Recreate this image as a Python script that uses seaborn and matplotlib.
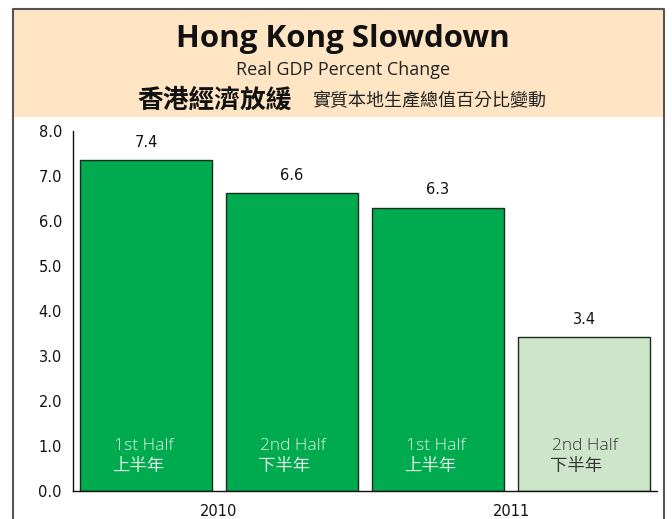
import numpy as np
import pandas as pd
import matplotlib
matplotlib.use("Agg")
import matplotlib.pyplot as plt
import seaborn as sns
from matplotlib.patches import Rectangle
from matplotlib.lines import Line2D

# data
periods = ["2010 H1", "2010 H2", "2011 H1", "2011 H2"]
gdp_change = [7.35, 6.62, 6.29, 3.42]
value_labels = ["7.4", "6.6", "6.3", "3.4"]
half_en = ["1st Half", "2nd Half", "1st Half", "2nd Half"]
half_zh = ["上半年", "下半年", "上半年", "下半年"]
years = ["2010", "2011"]
y_ticks = [0.0, 1.0, 2.0, 3.0, 4.0, 5.0, 6.0, 7.0, 8.0]

bar_colors = ["#00AA4F", "#00AA4F", "#00AA4F", "#CDE6CA"]
text_colors = ["#E0F3E6", "#E0F3E6", "#E0F3E6", "#333333"]

df = pd.DataFrame({"period": periods, "change": gdp_change})

sns.set_style("white")
plt.rcParams["font.family"] = ["DejaVu Sans", "Noto Sans CJK TC"]

fig = plt.figure(figsize=(6.72, 5.19), dpi=100)

# header band and frame
fig.patches.append(Rectangle((13 / 672, 1 - 117 / 519), (664 - 13) / 672, (117 - 9) / 519,
                             transform=fig.transFigure, facecolor="#FFE5C4",
                             edgecolor="none", zorder=0))
fig.lines.append(Line2D([13 / 672, 13 / 672, 664 / 672, 664 / 672],
                        [0, 1 - 9 / 519, 1 - 9 / 519, 0],
                        transform=fig.transFigure, color="#555555", lw=1.5))

fig.text(0.51, 1 - 39 / 519, "Hong Kong Slowdown", ha="center", va="center",
         fontsize=22.5, fontweight="bold", family=["Open Sans", "DejaVu Sans"],
         color="#111111")
fig.text(0.51, 1 - 70 / 519, "Real GDP Percent Change", ha="center", va="center",
         fontsize=13, family=["Open Sans", "DejaVu Sans"], color="#222222")
fig.text(292 / 672, 1 - 100 / 519, "香港經濟放緩", ha="right", va="center",
         fontsize=18.5, fontweight="bold", family=["Noto Sans CJK TC"], color="#111111")
fig.text(312 / 672, 1 - 101 / 519, "實質本地生產總值百分比變動", ha="left", va="center",
         fontsize=13, family=["Noto Sans CJK TC"], color="#222222")

ax = fig.add_axes([73 / 672, 28 / 519, (657 - 73) / 672, 360 / 519])
sns.barplot(data=df, x="period", y="change", hue="period", palette=bar_colors,
            saturation=1, legend=False, width=0.91, edgecolor="#1A2A1A",
            linewidth=1.0, ax=ax)

ax.set_xlim(-0.5, 3.5)
ax.set_ylim(0, 8)
ax.set_yticks(y_ticks)
ax.set_yticklabels([f"{v:.1f}" for v in y_ticks], fontsize=10.5, color="#111111")
ax.set_xticks([-0.5, 0.5, 1.5, 2.5, 3.5])
ax.set_xticklabels([])
ax.tick_params(axis="y", direction="out", length=5, width=1, color="#111111", pad=3)
ax.tick_params(axis="x", direction="out", length=6, width=1, color="#111111")
ax.set_xlabel("")
ax.set_ylabel("")
for side in ["top", "right"]:
    ax.spines[side].set_visible(False)
for side in ["left", "bottom"]:
    ax.spines[side].set_color("#111111")
    ax.spines[side].set_linewidth(1.0)

for i, (v, lab) in enumerate(zip(gdp_change, value_labels)):
    ax.text(i, v + 0.4, lab, ha="center", va="center", fontsize=10.5, color="#111111")
    # left edge of the two-line label inside the bar
    x0 = i - 0.22
    ax.text(x0, 1.0, half_en[i], ha="left", va="center", fontsize=12.5,
            color=text_colors[i], fontweight="light", family=["Open Sans"])
    ax.text(x0 - 0.01, 0.55, half_zh[i], ha="left", va="center", fontsize=12.5,
            color=text_colors[i], fontweight="normal", family=["Noto Sans CJK TC"])

for j, yr in enumerate(years):
    ax.text(0.5 + 2 * j, -0.45, yr, ha="center", va="center", fontsize=10.5,
            color="#111111")

fig.savefig("out.png", dpi=100)
